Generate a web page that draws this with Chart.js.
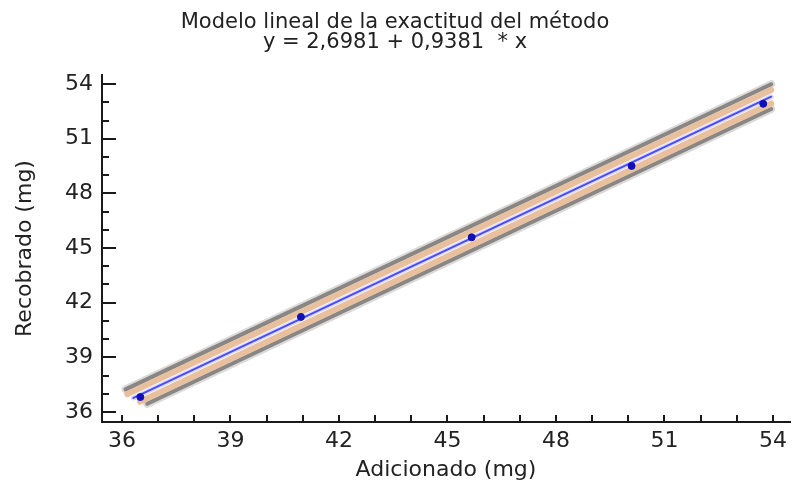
<!DOCTYPE html>
<html>
<head>
<meta charset="utf-8">
<script src="https://cdn.jsdelivr.net/npm/chart.js@4.4.0/dist/chart.umd.min.js"></script>
<style>
  html, body { margin: 0; padding: 0; background: #fff; }
  #wrap { width: 800px; height: 483px; }
</style>
</head>
<body>
<div id="wrap"><canvas id="chart" width="800" height="483"></canvas></div>
<script>
// observed points
const adicionado = [36.51, 40.95, 45.67, 50.09, 53.73];
const recobrado = [36.82, 41.22, 45.59, 49.51, 52.92];

// fitted line y = 2,6981 + 0,9381 * x (end points)
const fitX = [36.32, 53.95];
const fitY = [36.77, 53.31];

// prediction limits (grey) and confidence limits (tan)
const predUpperX = [36.10, 53.95];
const predUpperY = [37.24, 53.99];
const predLowerX = [36.70, 53.95];
const predLowerY = [36.45, 52.63];
const confUpperX = [36.15, 53.95];
const confUpperY = [36.98, 53.68];
const confLowerX = [36.50, 53.95];
const confLowerY = [36.57, 52.94];

const tickLabels = [36, 39, 42, 45, 48, 51, 54];
const minorTicks = [36, 37, 38, 39, 40, 41, 42, 43, 44, 45, 46, 47, 48, 49, 50, 51, 52, 53, 54];

const pts = (xs, ys) => xs.map((x, i) => ({ x: x, y: ys[i] }));

const lineSet = (data, color, width) => ({
    type: 'line',
    data: data,
    borderColor: color,
    borderWidth: width,
    borderCapStyle: 'round',
    pointRadius: 0,
    fill: false,
    tension: 0
});

// inward tick marks, long ones on the labelled y values
const innerTicks = {
    id: 'innerTicks',
    afterDraw(chart) {
        const ctx = chart.ctx;
        const xs = chart.scales.x;
        const ys = chart.scales.y;
        const area = chart.chartArea;
        ctx.save();
        ctx.strokeStyle = '#1a1a1a';
        ctx.lineWidth = 2;
        ctx.beginPath();
        minorTicks.forEach(v => {
            const py = Math.round(ys.getPixelForValue(v));
            const len = tickLabels.includes(v) ? 14 : 7;
            ctx.moveTo(area.left, py);
            ctx.lineTo(area.left + len, py);
            const px = Math.round(xs.getPixelForValue(v));
            ctx.moveTo(px, area.bottom);
            ctx.lineTo(px, area.bottom - 7);
        });
        ctx.stroke();
        ctx.restore();
    }
};

const axisFont = { family: 'DejaVu Sans', size: 22 };

// Chart.js paints the first dataset last, so the list runs from top to bottom
new Chart(document.getElementById('chart'), {
    type: 'scatter',
    data: {
        datasets: [
            {
                data: pts(adicionado, recobrado),
                backgroundColor: '#1010b8',
                borderColor: '#1010b8',
                pointRadius: 3.5,
                pointStyle: 'circle'
            },
            lineSet(pts(fitX, fitY), '#4a4aff', 2),
            lineSet(pts(fitX, fitY), 'rgba(150,150,255,0.35)', 5),
            lineSet(pts(confUpperX, confUpperY), '#e9c09e', 6),
            lineSet(pts(confLowerX, confLowerY), '#e9c09e', 6),
            lineSet(pts(predUpperX, predUpperY), '#8a8684', 4),
            lineSet(pts(predLowerX, predLowerY), '#8a8684', 4),
            lineSet(pts(predUpperX, predUpperY), 'rgba(150,150,150,0.35)', 8),
            lineSet(pts(predLowerX, predLowerY), 'rgba(150,150,150,0.35)', 8)
        ]
    },
    options: {
        responsive: false,
        animation: false,
        layout: { padding: { left: 0, right: 10, top: 0, bottom: 0 } },
        plugins: {
            legend: { display: false },
            tooltip: { enabled: false },
            title: {
                display: true,
                text: ['Modelo lineal de la exactitud del método', 'y = 2,6981 + 0,9381  * x'],
                color: '#222',
                font: { family: 'DejaVu Sans', size: 21, weight: 'normal', lineHeight: 20 / 21 },
                padding: { top: 12.7, bottom: 22.3 }
            }
        },
        scales: {
            x: {
                type: 'linear',
                min: 35.45,
                max: 54.47,
                afterBuildTicks: s => { s.ticks = tickLabels.map(v => ({ value: v })); },
                afterFit: s => { s.height = 61; },
                grid: { display: false, drawTicks: false },
                border: { display: true, color: '#1a1a1a', width: 2 },
                ticks: { color: '#222', font: axisFont, padding: 6, maxRotation: 0 },
                title: {
                    display: true,
                    text: 'Adicionado (mg)',
                    color: '#222',
                    font: axisFont,
                    padding: { top: 0, bottom: 0 }
                }
            },
            y: {
                type: 'linear',
                min: 35.45,
                max: 54.5,
                afterBuildTicks: s => { s.ticks = tickLabels.map(v => ({ value: v })); },
                afterFit: s => { s.width = 102; },
                grid: { display: false, drawTicks: false },
                border: { display: true, color: '#1a1a1a', width: 2 },
                ticks: { color: '#222', font: axisFont, padding: 9 },
                title: {
                    display: true,
                    text: 'Recobrado (mg)',
                    color: '#222',
                    font: axisFont,
                    padding: { top: 12, bottom: 0 }
                }
            }
        }
    },
    plugins: [innerTicks]
});
</script>
</body>
</html>
